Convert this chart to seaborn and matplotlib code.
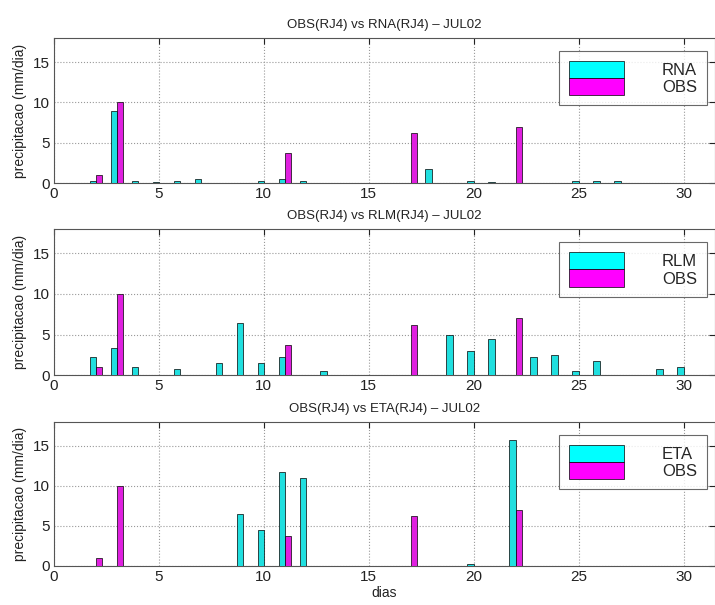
import numpy as np
import pandas as pd
import matplotlib
matplotlib.use("Agg")
import matplotlib.pyplot as plt
from matplotlib.patches import Patch
import seaborn as sns

# daily precipitation (mm/dia), JUL02, station RJ4
dias = list(range(1, 32))

obs = [0, 1.0, 10.0, 0, 0, 0, 0, 0, 0, 0, 3.7, 0, 0, 0, 0, 0, 6.2, 0, 0, 0,
       0, 7.0, 0, 0, 0, 0, 0, 0, 0, 0, 0]
rna = [0.05, 0.3, 9.0, 0.3, 0.15, 0.3, 0.5, 0, 0.05, 0.3, 0.5, 0.2, 0, 0, 0, 0,
       0.05, 1.8, 0, 0.2, 0.1, 0, 0, 0.05, 0.3, 0.2, 0.3, 0, 0, 0.05, 0.05]
rlm = [0, 2.2, 3.3, 1.0, 0, 0.7, 0, 1.5, 6.4, 1.5, 2.2, 0, 0.5, 0, 0, 0, 0, 0,
       5.0, 3.0, 4.5, 0, 2.2, 2.5, 0.5, 1.8, 0, 0, 0.7, 1.0, 0]
eta = [0, 0, 0, 0, 0, 0, 0, 0, 6.5, 4.5, 11.8, 11.0, 0, 0, 0, 0, 0, 0, 0, 0.3,
       0, 15.8, 0, 0, 0, 0, 0, 0, 0, 0, 0]

modelos = ["RNA", "RLM", "ETA"]
previsoes = [rna, rlm, eta]

sns.set_style("white")
plt.rcParams["font.family"] = ["Liberation Sans", "DejaVu Sans"]

fig = plt.figure(figsize=(7.15, 6.05), dpi=100)
posicoes = [[0.0755, 0.6975, 0.9245, 0.2397],
            [0.0755, 0.3800, 0.9245, 0.2413],
            [0.0755, 0.0645, 0.9245, 0.2380]]

cores = ["#00ffff", "#ff00ff"]

for i, (nome, prev) in enumerate(zip(modelos, previsoes)):
    ax = fig.add_axes(posicoes[i])
    df = pd.DataFrame({
        "dia": dias + dias,
        "valor": prev + obs,
        "serie": [nome] * len(dias) + ["OBS"] * len(dias),
    })
    sns.barplot(data=df, x="dia", y="valor", hue="serie", native_scale=True,
                width=0.6, palette=cores, edgecolor="black", linewidth=0.5,
                errorbar=None, ax=ax, legend=False, zorder=3)
    ax.set_xlim(0, 31.5)
    ax.set_ylim(0, 18)
    ax.set_xticks([0, 5, 10, 15, 20, 25, 30])
    ax.set_yticks([0, 5, 10, 15])
    ax.grid(True, linestyle=":", color="#999999", linewidth=0.8, zorder=0)
    ax.set_axisbelow(True)
    ax.tick_params(direction="in", length=4, labelsize=11, colors="#222222",
                   top=True, right=True, pad=3)
    for s in ax.spines.values():
        s.set_color("#555555")
        s.set_linewidth(0.8)
    ax.set_title(f"OBS(RJ4) vs {nome}(RJ4) \u2013 JUL02", fontsize=9.5,
                 color="#222222", pad=7)
    ax.set_ylabel("precipitacao (mm/dia)", fontsize=10, color="#222222", labelpad=4)
    ax.set_xlabel("dias" if i == 2 else "", fontsize=10, color="#222222", labelpad=1)
    handles = [Patch(facecolor=cores[0], edgecolor="black", linewidth=0.5),
               Patch(facecolor=cores[1], edgecolor="black", linewidth=0.5)]
    leg = ax.legend(handles, [nome, "OBS"], loc="upper right",
                    bbox_to_anchor=(0.988, 0.91), fontsize=12,
                    handlelength=3.3, handleheight=1.2, labelspacing=0,
                    handletextpad=2.3, borderpad=0.6, borderaxespad=0,
                    fancybox=False, frameon=True)
    leg.get_frame().set_edgecolor("#444444")
    leg.get_frame().set_linewidth(0.8)

fig.savefig("out.png", dpi=100)
